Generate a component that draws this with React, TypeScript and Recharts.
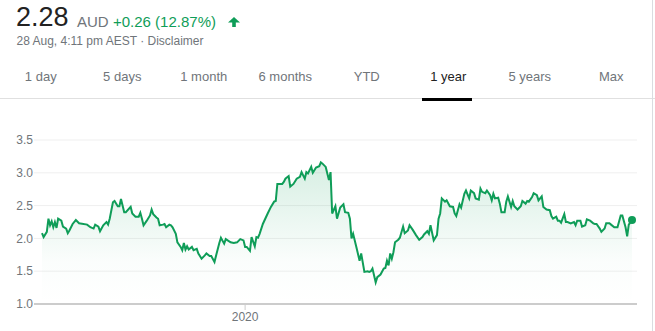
import { ComposedChart, Area, Line, XAxis, YAxis, CartesianGrid, ReferenceDot } from 'recharts';

// days since 28 Aug 2019, closing price in AUD
const days = [
  0, 1, 3, 4, 5, 6, 7, 8, 9, 10, 12, 13, 15, 16, 17, 19, 21, 23, 28, 30,
  32, 33, 35, 36, 38, 40, 41, 42, 44, 45, 47, 48, 49, 51, 52, 55, 56, 58, 60, 61,
  62, 63, 65, 67, 68, 69, 71, 72, 73, 75, 76, 77, 79, 80, 81, 83, 84, 86, 87, 88,
  89, 90, 91, 93, 94, 96, 97, 99, 101, 102, 104, 105, 107, 108, 110, 111, 113, 114, 117, 119,
  121, 123, 125, 126, 127, 129, 130, 132, 133, 134, 135, 137, 140, 142, 144, 145, 146, 149, 150, 151,
  153, 154, 156, 158, 160, 161, 163, 164, 165, 167, 168, 170, 172, 173, 174, 176, 178, 179, 180, 182,
  183, 185, 187, 188, 190, 191, 192, 193, 195, 197, 198, 200, 202, 203, 204, 205, 207, 208, 210, 212,
  213, 214, 215, 216, 217, 218, 219, 221, 222, 224, 225, 227, 228, 230, 232, 234, 236, 237, 239, 240,
  241, 243, 245, 246, 247, 248, 250, 251, 253, 255, 256, 257, 259, 260, 262, 263, 265, 266, 268, 269,
  271, 272, 273, 275, 276, 278, 279, 280, 281, 283, 284, 285, 287, 288, 289, 291, 292, 293, 295, 297,
  298, 300, 301, 302, 304, 305, 307, 308, 310, 311, 313, 315, 316, 317, 319, 320, 321, 322, 324, 325,
  326, 328, 330, 331, 332, 334, 335, 337, 338, 340, 342, 343, 344, 346, 347, 349, 350, 352, 353, 355,
  357, 359, 360, 362, 363, 364, 366,
];
const prices = [
  2.08, 2.02, 2.1, 2.3, 2.2, 2.26, 2.17, 2.25, 2.16, 2.3, 2.27, 2.18, 2.15, 2.08, 2.12, 2.22, 2.28, 2.23, 2.21, 2.17,
  2.15, 2.21, 2.18, 2.11, 2.2, 2.25, 2.21, 2.3, 2.55, 2.57, 2.49, 2.49, 2.6, 2.4, 2.4, 2.48, 2.38, 2.33, 2.33, 2.39,
  2.3, 2.2, 2.27, 2.35, 2.44, 2.37, 2.32, 2.3, 2.2, 2.21, 2.22, 2.17, 2.21, 2.2, 2.17, 2.07, 1.94, 1.87, 1.82, 1.93,
  1.83, 1.88, 1.83, 1.87, 1.82, 1.84, 1.77, 1.69, 1.74, 1.77, 1.73, 1.73, 1.64, 1.74, 1.93, 2.01, 1.92, 1.99, 1.94, 1.93,
  1.94, 1.99, 1.97, 1.87, 1.87, 1.81, 2.02, 1.88, 2.02, 2.01, 2.07, 2.22, 2.38, 2.48, 2.56, 2.57, 2.83, 2.83, 2.86, 2.91,
  2.95, 2.79, 2.83, 2.91, 2.94, 3.01, 2.91, 3.01, 2.99, 3.09, 3.0, 3.08, 3.1, 3.16, 3.14, 3.09, 2.89, 3.01, 2.38, 2.49,
  2.3, 2.47, 2.52, 2.4, 2.39, 2.3, 2.0, 2.07, 1.87, 1.66, 1.77, 1.49, 1.5, 1.49, 1.5, 1.54, 1.33, 1.41, 1.45, 1.54,
  1.55, 1.66, 1.59, 1.77, 1.69, 1.79, 1.94, 1.98, 2.01, 2.18, 2.08, 2.12, 2.2, 2.13, 2.05, 1.98, 2.02, 2.06, 2.11, 2.07,
  2.2, 1.97, 2.05, 2.3, 2.38, 2.61, 2.56, 2.58, 2.49, 2.48, 2.38, 2.34, 2.52, 2.47, 2.68, 2.73, 2.61, 2.73, 2.69, 2.61,
  2.59, 2.76, 2.71, 2.69, 2.73, 2.66, 2.58, 2.68, 2.61, 2.62, 2.53, 2.4, 2.4, 2.56, 2.64, 2.48, 2.57, 2.49, 2.44, 2.49,
  2.57, 2.53, 2.57, 2.56, 2.63, 2.69, 2.66, 2.58, 2.64, 2.48, 2.44, 2.43, 2.34, 2.3, 2.33, 2.27, 2.27, 2.24, 2.37, 2.25,
  2.25, 2.23, 2.25, 2.2, 2.27, 2.27, 2.18, 2.2, 2.29, 2.27, 2.23, 2.22, 2.22, 2.15, 2.1, 2.15, 2.23, 2.23, 2.21, 2.17,
  2.17, 2.35, 2.35, 2.17, 2.03, 2.21, 2.28,
];

const yTicks = [1.0, 1.5, 2.0, 2.5, 3.0, 3.5];
const xTicks = [126];
const xTickLabels = ['2020'];
const tabs = ['1 day', '5 days', '1 month', '6 months', 'YTD', '1 year', '5 years', 'Max'];
const activeTab = '1 year';

const data = days.map((d, i) => ({ day: d, price: prices[i] }));
const last = data[data.length - 1];

const GREEN = '#0f9d58';
const GREY = '#70757a';
const FONT = 'Arial, "Liberation Sans", sans-serif';

export default function App() {
  const tabW = 81.5;
  return (
    <div style={{ position: 'absolute', left: 0, top: 0, width: 655, height: 331, background: '#fff', fontFamily: FONT, overflow: 'hidden' }}>
      {/* price header */}
      <div style={{ position: 'absolute', left: 16, top: 4, fontSize: 27, lineHeight: '27px', color: '#222' }}>2.28</div>
      <div style={{ position: 'absolute', left: 77, top: 14, fontSize: 15, lineHeight: '15px', color: GREY }}>AUD</div>
      <div style={{ position: 'absolute', left: 113, top: 14, fontSize: 15, lineHeight: '15px', color: GREEN, whiteSpace: 'nowrap' }}>+0.26 (12.87%)</div>
      <svg style={{ position: 'absolute', left: 228, top: 17 }} width={12} height={10}>
        <path d="M0 5.6 L6 0 L12 5.6 Z" fill={GREEN} />
        <rect x={4.2} y={5} width={3.6} height={5} fill={GREEN} />
      </svg>
      <div style={{ position: 'absolute', left: 16.5, top: 35, fontSize: 12, lineHeight: '12px', color: GREY, whiteSpace: 'nowrap' }}>
        28 Aug, 4:11 pm AEST · Disclaimer
      </div>

      {/* range tabs */}
      {tabs.map((t, i) => (
        <div
          key={t}
          style={{
            position: 'absolute', left: i * tabW, top: 70, width: tabW, textAlign: 'center',
            fontSize: 13, lineHeight: '13px', color: t === activeTab ? '#222' : GREY,
          }}
        >
          {t}
        </div>
      ))}
      <div style={{ position: 'absolute', left: 0, top: 98, width: 655, height: 1, background: '#e0e0e0' }} />
      <div style={{ position: 'absolute', left: 422, top: 98, width: 50, height: 3, background: '#000' }} />
      <div style={{ position: 'absolute', left: 652, top: 0, width: 1, height: 331, background: '#dadce0' }} />

      <div style={{ position: 'absolute', left: 0, top: 100 }}>
        <ComposedChart width={655} height={231} data={data} margin={{ top: 40, right: 18, bottom: 0, left: 0 }}>
          <defs>
            <linearGradient id="priceFill" x1="0" y1="0" x2="0" y2="1">
              <stop offset="0%" stopColor={GREEN} stopOpacity={0.28} />
              <stop offset="70%" stopColor={GREEN} stopOpacity={0.03} />
              <stop offset="100%" stopColor={GREEN} stopOpacity={0} />
            </linearGradient>
          </defs>
          <CartesianGrid horizontal vertical={false} stroke="#efefef" />
          <XAxis
            type="number"
            dataKey="day"
            domain={[0, 366]}
            padding={{ left: 8, right: 5 }}
            ticks={xTicks}
            tickFormatter={(v: number) => xTickLabels[xTicks.indexOf(v)] ?? ''}
            axisLine={{ stroke: '#cccccc', strokeWidth: 2 }}
            tickLine={{ stroke: '#cccccc' }}
            tickSize={6}
            tickMargin={2}
            height={27}
            tick={{ fill: GREY, fontSize: 12, fontFamily: FONT }}
          />
          <YAxis
            type="number"
            domain={[1, 3.5]}
            ticks={yTicks}
            tickFormatter={(v: number) => v.toFixed(1)}
            axisLine={false}
            tickLine={false}
            tickSize={0}
            tickMargin={1}
            width={34}
            tick={{ fill: GREY, fontSize: 12, fontFamily: FONT }}
          />
          <Area type="linear" dataKey="price" stroke="none" fill="url(#priceFill)" isAnimationActive={false} />
          <Line type="linear" dataKey="price" stroke={GREEN} strokeWidth={2} dot={false} isAnimationActive={false} />
          <ReferenceDot x={last.day} y={last.price} r={4} fill={GREEN} stroke="none" />
        </ComposedChart>
      </div>
    </div>
  );
}
